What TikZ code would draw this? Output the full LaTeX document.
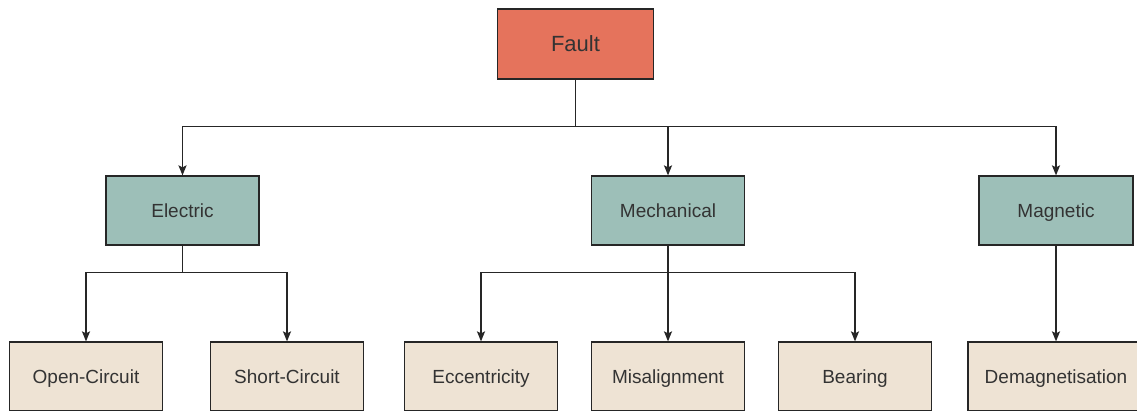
\documentclass[tikz,border=0pt]{standalone}
\usepackage{fontspec}
\setmainfont{Liberation Sans}
\usetikzlibrary{positioning, arrows.meta}

\definecolor{faultred}{HTML}{E5735C}
\definecolor{groupteal}{HTML}{9DBFB8}
\definecolor{leafbeige}{HTML}{EEE3D4}
\definecolor{inkgrey}{HTML}{333333}

\tikzset{
  box/.style={draw=black!85, line width=1.2pt, text=inkgrey, minimum width=153pt,
    minimum height=69pt, inner sep=0pt, text height=14pt, text depth=0.4pt,
    font=\fontsize{19}{22}\selectfont},
  rootbox/.style={box, fill=faultred, text=black!80, minimum width=156pt,
    minimum height=70pt, text height=16pt, text depth=0.25pt,
    font=\fontsize{22}{26}\selectfont},
  groupbox/.style={box, fill=groupteal},
  leafbox/.style={box, fill=leafbeige},
  link/.style={-{Stealth[length=10pt,width=8pt,inset=2pt]}, line width=1.5pt, black!85}
}

\begin{document}
\begin{tikzpicture}[x=1pt,y=-1pt,on grid]
   \useasboundingbox (0,0) rectangle (1137,410);

   \node[rootbox] (fault) at (575.5,44) {Fault};

   \node[groupbox] (electric) at (182.5,210.5) {Electric};
   \node[groupbox] (mechanical) [right=485.5pt of electric] {Mechanical};
   \node[groupbox, minimum width=154pt] (magnetic) [right=388pt of mechanical] {Magnetic};

   \node[leafbox] (opencirc) at (86,376.5) {Open-Circuit};
   \node[leafbox] (shortcirc) [right=201pt of opencirc] {Short-Circuit};
   \node[leafbox] (eccentric) at (481,376.5) {Eccentricity};
   \node[leafbox] (misalign) [right=187pt of eccentric] {Misalignment};
   \node[leafbox] (bearing) [right=187pt of misalign] {Bearing};
   \node[leafbox, minimum width=176pt] (demag) at (1056,376.5) {Demagnetisation};

   % fault to the three groups
   \draw[link] (fault.south) -- ++(0,47) -| (electric.north);
   \draw[link] (fault.south) -- ++(0,47) -| (mechanical.north);
   \draw[link] (fault.south) -- ++(0,47) -| (magnetic.north);

   % groups to their faults
   \draw[link] (electric.south) -- ++(0,27) -| (opencirc.north);
   \draw[link] (electric.south) -- ++(0,27) -| (shortcirc.north);
   \draw[link] (mechanical.south) -- ++(0,27) -| (eccentric.north);
   \draw[link] (mechanical.south) -- (misalign.north);
   \draw[link] (mechanical.south) -- ++(0,27) -| (bearing.north);
   \draw[link] (magnetic.south) -- (demag.north);

\end{tikzpicture}
\end{document}
